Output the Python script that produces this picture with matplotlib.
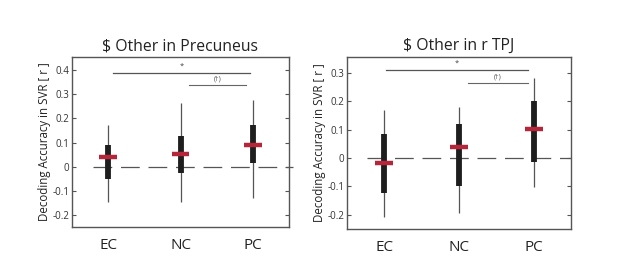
import matplotlib
matplotlib.use("Agg")
import matplotlib.pyplot as plt

plt.rcParams['font.family'] = ['Open Sans', 'DejaVu Sans']

categories = ["EC", "NC", "PC"]

# Precuneus
pre_whisk_lo = [-0.147, -0.145, -0.131]
pre_whisk_hi = [0.172, 0.265, 0.276]
pre_box_lo = [-0.051, -0.028, 0.017]
pre_box_hi = [0.092, 0.127, 0.172]
pre_median = [0.041, 0.051, 0.090]
pre_yticks = [-0.2, -0.1, 0, 0.1, 0.2, 0.3, 0.4]
pre_ylim = (-0.25, 0.455)

# rTPJ
tpj_whisk_lo = [-0.206, -0.192, -0.102]
tpj_whisk_hi = [0.171, 0.180, 0.282]
tpj_box_lo = [-0.124, -0.100, -0.015]
tpj_box_hi = [0.086, 0.119, 0.201]
tpj_median = [-0.018, 0.039, 0.104]
tpj_yticks = [-0.2, -0.1, 0, 0.1, 0.2, 0.3]
tpj_ylim = (-0.25, 0.357)

fig = plt.figure(figsize=(6.17, 2.80), dpi=100)

def panel(rect, title, wlo, whi, blo, bhi, med, yticks, ylim,
          star_y, dag_y, star_x, dag_x, zero_x, zero_clip):
    ax = fig.add_axes(rect)
    x = [1, 2, 3]
    ax.vlines(x, wlo, whi, color='#555555', lw=0.9, zorder=2)
    ax.vlines(x, blo, bhi, color='#1e1e1e', lw=4.2, zorder=3)
    ax.hlines(med, [xi - 0.12 for xi in x], [xi + 0.12 for xi in x],
              color='#b5263a', lw=3.2, zorder=4)
    ax.plot(zero_x, [0, 0], color='#555555', lw=0.9,
            linestyle=(0, (15, 7)), zorder=1, clip_on=zero_clip)
    ax.plot(star_x, [star_y, star_y], color='#555555', lw=0.9)
    ax.plot(dag_x, [dag_y, dag_y], color='#666666', lw=0.8)
    ax.text(sum(star_x) / 2, star_y + 0.012, "*", ha='center', va='bottom',
            fontsize=5.5, color='#444444')
    ax.text(sum(dag_x) / 2, dag_y + 0.008, "(\u2020)", ha='center', va='bottom',
            fontsize=5, color='#555555')
    ax.set_xlim(0.5, 3.5)
    ax.set_ylim(*ylim)
    ax.set_yticks(yticks)
    ax.set_yticklabels([("%g" % t) for t in yticks], fontsize=7, color='#333333')
    ax.set_xticks(x)
    ax.set_xticklabels(categories, fontsize=11, color='#222222')
    ax.tick_params(axis='x', length=0, pad=8)
    ax.tick_params(axis='y', direction='in', length=3, width=0.8, right=True,
                   color='#555555', pad=2)
    for s in ax.spines.values():
        s.set_color('#555555')
        s.set_linewidth(1.0)
    ax.set_ylabel("Decoding Accuracy in SVR [ r ]", fontsize=8.3,
                  color='#222222', labelpad=1)
    ax.set_title(title, fontsize=11.3, color='#222222', pad=5)
    return ax

panel([72 / 617, 53 / 280, 217 / 617, 170 / 280], "$ Other in Precuneus",
      pre_whisk_lo, pre_whisk_hi, pre_box_lo, pre_box_hi, pre_median,
      pre_yticks, pre_ylim, 0.39, 0.34, (1.07, 2.96), (2.12, 2.91),
      (0.79, 3.55), False)

panel([347 / 617, 51 / 280, 224 / 617, 172 / 280], "$ Other in r TPJ",
      tpj_whisk_lo, tpj_whisk_hi, tpj_box_lo, tpj_box_hi, tpj_median,
      tpj_yticks, tpj_ylim, 0.31, 0.267, (1.02, 2.92), (2.12, 2.92),
      (0.77, 3.5), True)

fig.savefig("out.png", dpi=100)
